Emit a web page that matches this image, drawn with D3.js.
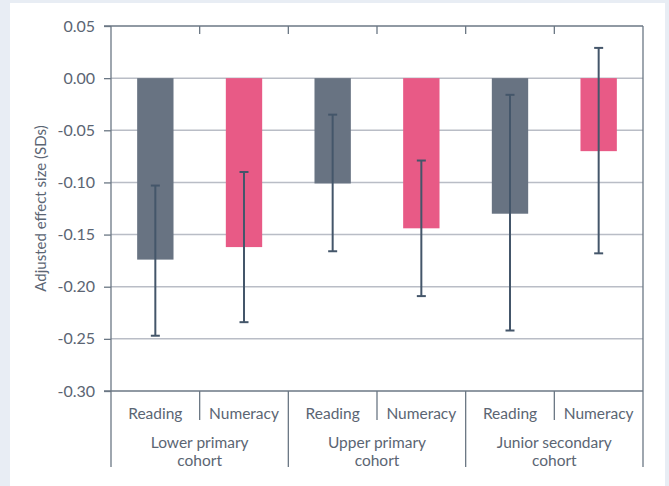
<!DOCTYPE html>
<html><head><meta charset="utf-8">
<script src="https://cdn.jsdelivr.net/npm/d3@7"></script>
<style>
html,body{margin:0;padding:0;background:#e8edf4;}
svg{display:block;}
text{font-family:Lato,"Open Sans",sans-serif;fill:#5b6573;}
</style></head><body>
<svg id="c" width="669" height="486"></svg>
<script>
const cohorts = ["Lower primary|cohort","Upper primary|cohort","Junior secondary|cohort"];
const subjects = ["Reading","Numeracy"];
const values   = [-0.174,-0.162,-0.101,-0.144,-0.130,-0.070];
const ciLow    = [-0.247,-0.234,-0.166,-0.209,-0.242,-0.168];
const ciHigh   = [-0.103,-0.090,-0.035,-0.079,-0.016,0.029];
const yTicks   = [0.05,0.00,-0.05,-0.10,-0.15,-0.20,-0.25,-0.30];
const yTitle   = "Adjusted effect size (SDs)";
const colors   = {"Reading":"#687382","Numeracy":"#e85a86"};

const svg = d3.select("#c");
svg.append("rect").attr("x",10).attr("y",3).attr("width",655).attr("height",483).attr("fill","#fff");

const L=111,R=643,T=26,B=391,BOT=467;
const items=[];
cohorts.forEach((c,i)=>subjects.forEach((s,j)=>items.push({key:i+"-"+s,cohort:i,subject:s,v:values[i*2+j],lo:ciLow[i*2+j],hi:ciHigh[i*2+j]})));
const x = d3.scaleBand().domain(items.map(d=>d.key)).range([L,R]);
const y = d3.scaleLinear().domain([-0.30,0.05]).range([B,T]);
const axisCol="#6b7784", gridCol="#b9bdc6";
const fmt = d3.formatLocale({decimal:".",thousands:",",grouping:[3],currency:["",""],minus:"-"}).format(".2f");

// gridlines
svg.append("g").selectAll("line").data(yTicks.filter(t=>t>-0.30+1e-9 && t<0.05-1e-9)).join("line")
  .attr("x1",L).attr("x2",R).attr("y1",d=>y(d)).attr("y2",d=>y(d)).attr("stroke",gridCol).attr("stroke-width",1.5);

// y axis
const ya = svg.append("g").attr("transform",`translate(${L},0)`)
  .call(d3.axisLeft(y).tickValues(yTicks).tickFormat(fmt).tickSize(7).tickPadding(9));
ya.select(".domain").remove();
ya.selectAll(".tick line").attr("stroke",axisCol).attr("stroke-width",1.3);
ya.selectAll(".tick text").style("font-size","16px").attr("fill","#5b6573").style("font-family","Lato,'Open Sans',sans-serif");

// bars
svg.append("g").selectAll("rect").data(items).join("rect")
  .attr("x",d=>x(d.key)+x.bandwidth()*0.295).attr("width",x.bandwidth()*0.41)
  .attr("y",y(0)).attr("height",d=>y(d.v)-y(0)).attr("fill",d=>colors[d.subject]);

// error bars
const eb = svg.append("g").attr("stroke","#44566a").attr("stroke-width",2);
items.forEach(d=>{
  const cx = x(d.key)+x.bandwidth()/2;
  eb.append("line").attr("x1",cx).attr("x2",cx).attr("y1",y(d.hi)).attr("y2",y(d.lo));
  eb.append("line").attr("x1",cx-4.5).attr("x2",cx+4.5).attr("y1",y(d.hi)).attr("y2",y(d.hi));
  eb.append("line").attr("x1",cx-4.5).attr("x2",cx+4.5).attr("y1",y(d.lo)).attr("y2",y(d.lo));
});

// frame
const fr = svg.append("g").attr("stroke",axisCol).attr("stroke-width",1.3).attr("fill","none");
fr.append("line").attr("x1",L-7).attr("x2",R).attr("y1",T).attr("y2",T);
fr.append("line").attr("x1",L-7).attr("x2",R).attr("y1",B).attr("y2",B);
fr.append("line").attr("x1",L).attr("x2",L).attr("y1",T).attr("y2",BOT);
fr.append("line").attr("x1",R).attr("x2",R).attr("y1",T).attr("y2",BOT);
items.slice(1).forEach((d,k)=>{
  const xb = x(d.key);
  fr.append("line").attr("x1",xb).attr("x2",xb).attr("y1",T).attr("y2",T+8);
  const major = d.cohort!==items[k].cohort;
  fr.append("line").attr("x1",xb).attr("x2",xb).attr("y1",B).attr("y2",major?BOT:420);
});

// category labels
svg.append("g").selectAll("text").data(items).join("text")
  .attr("x",d=>x(d.key)+x.bandwidth()/2).attr("y",414).attr("dy","0.35em")
  .attr("text-anchor","middle").style("font-size","15.5px").text(d=>d.subject);

cohorts.forEach((c,i)=>{
  const cx = x(i+"-Reading")+x.bandwidth();
  const t = svg.append("text").attr("text-anchor","middle").style("font-size","15.5px");
  c.split("|").forEach((ln,k)=>t.append("tspan").attr("x",cx).attr("y",443+k*18).attr("dy","0.35em").text(ln));
});

svg.append("text").attr("transform",`translate(41,${(T+B)/2}) rotate(-90)`).attr("text-anchor","middle")
  .attr("dy","0.35em").style("font-size","15px").text(yTitle);
</script></body></html>
